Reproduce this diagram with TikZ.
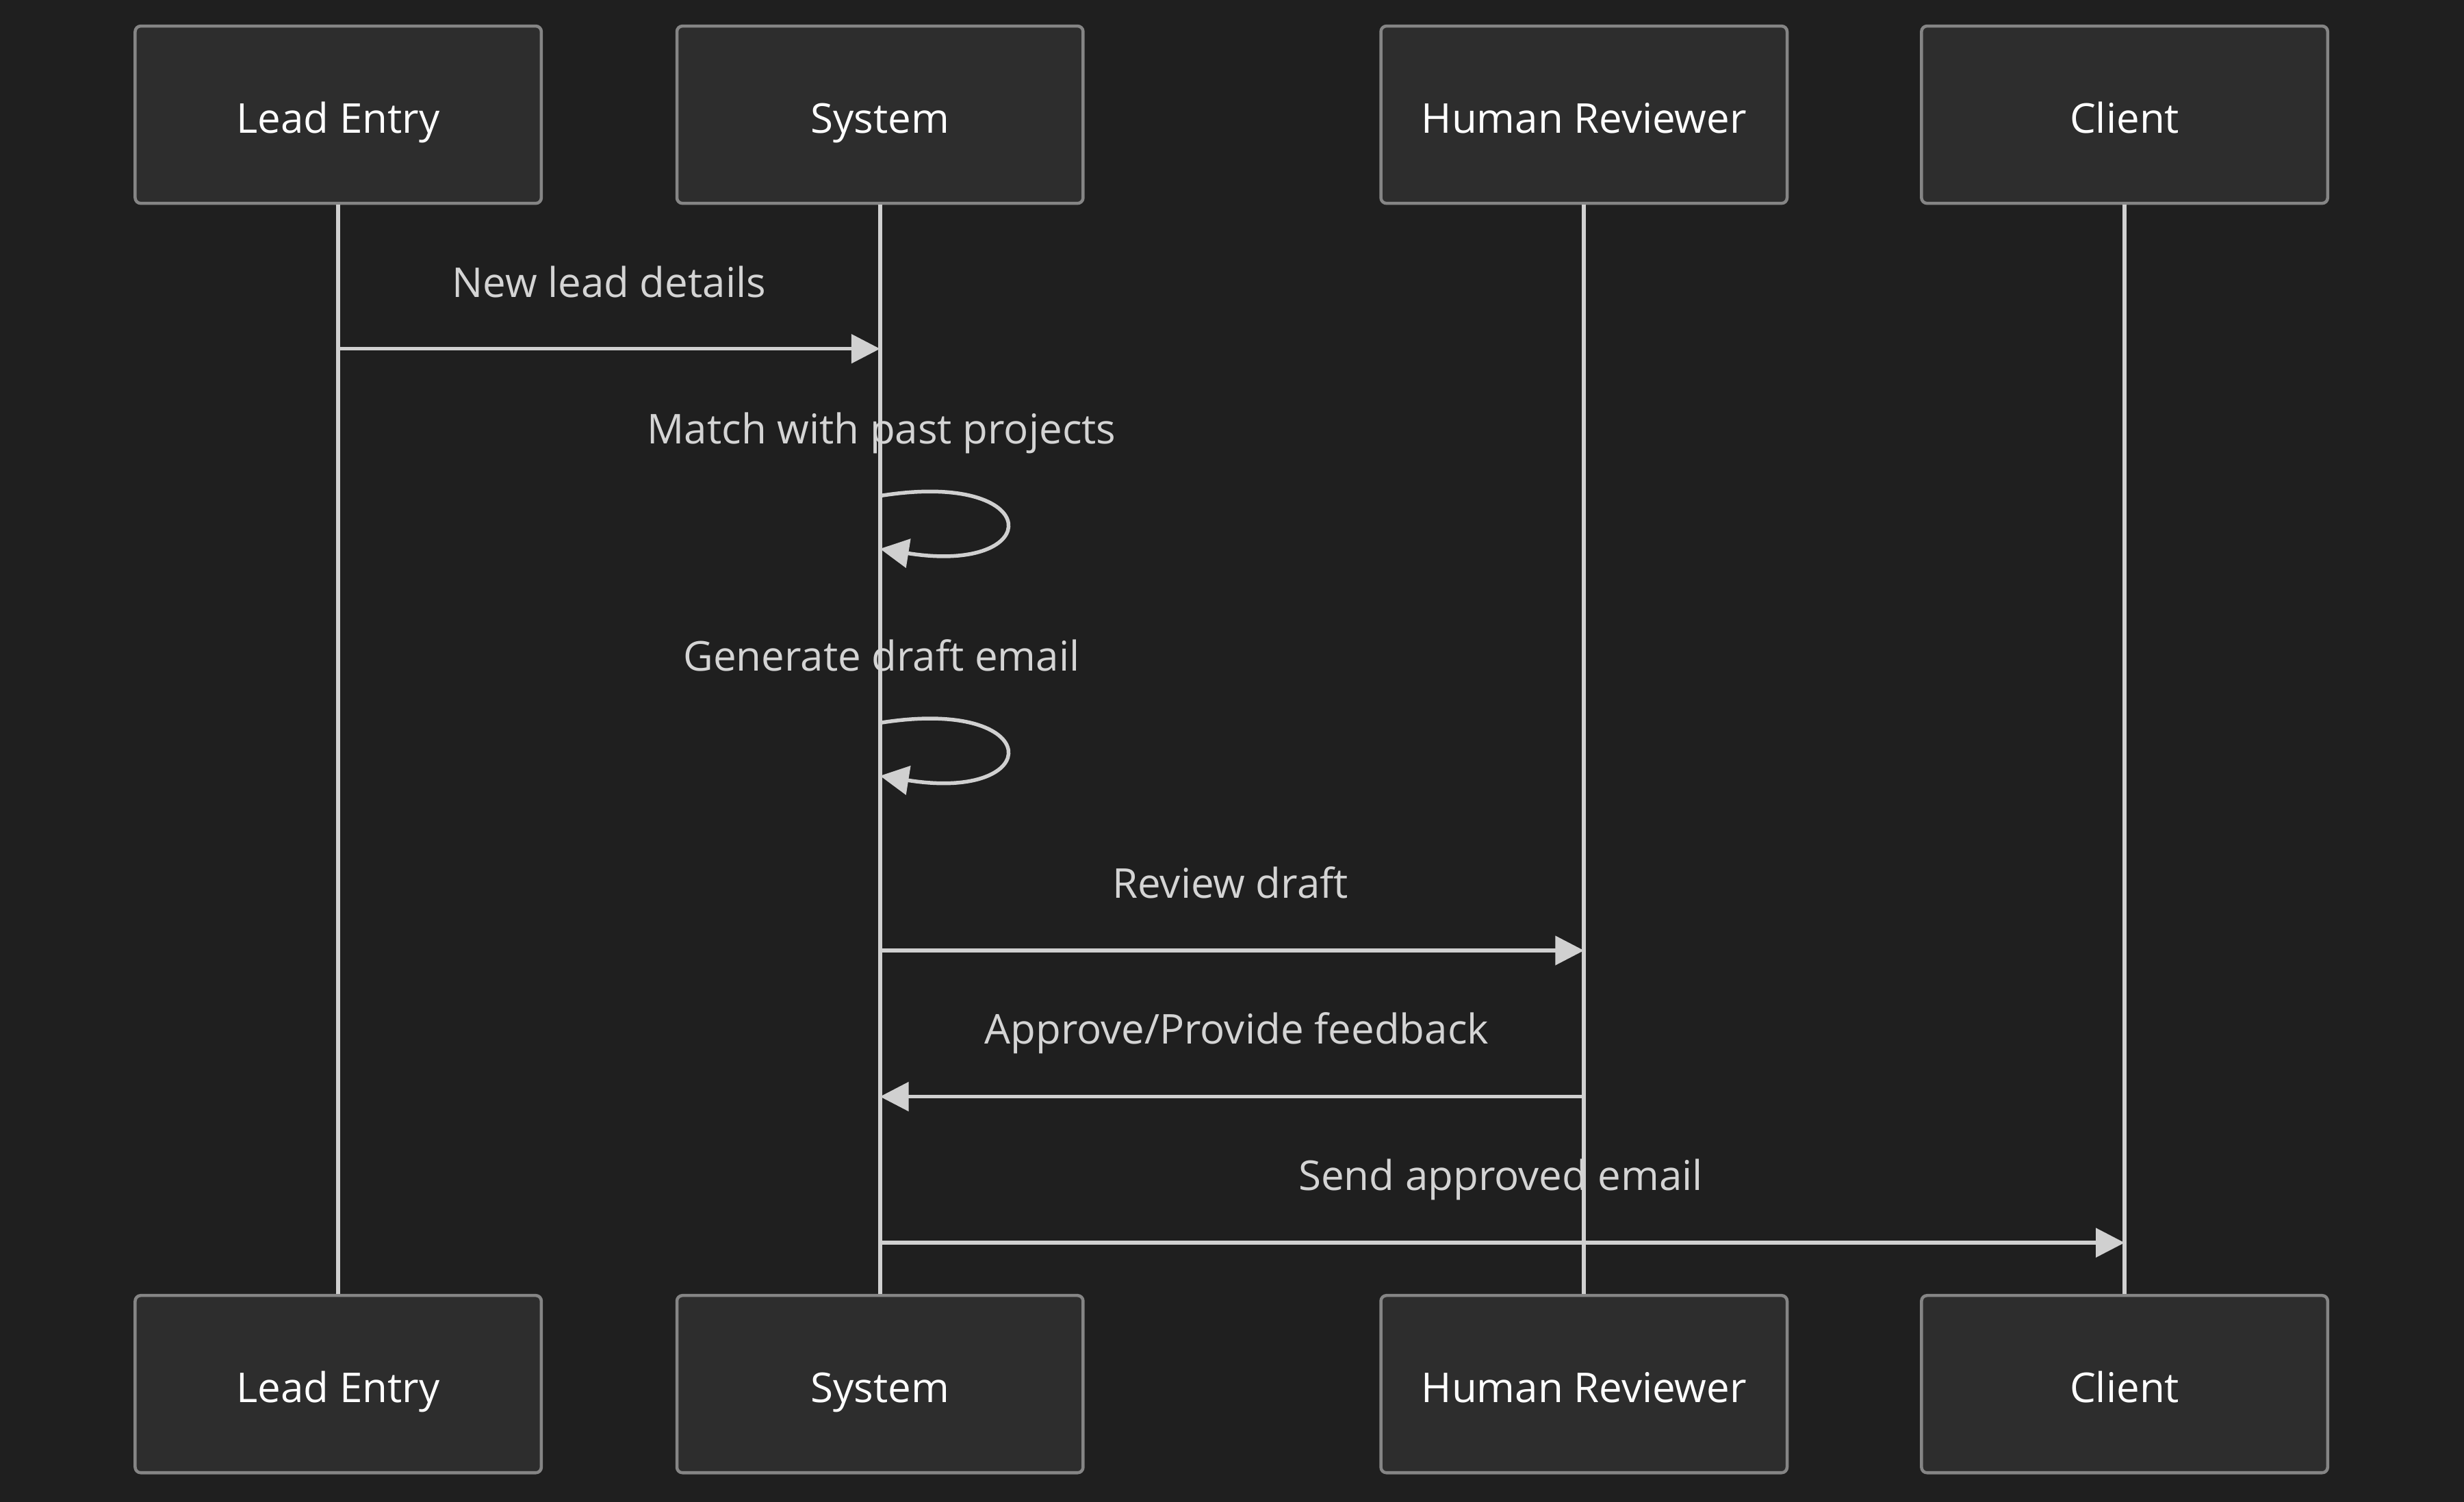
\documentclass[tikz,border=0pt]{standalone}
\usepackage{fontspec}
\setmainfont{Open Sans}
\usepackage{tikz}
\usetikzlibrary{arrows.meta,
                backgrounds,
                calc,
                positioning}
\definecolor{bgdark}{HTML}{1F1F1F}
\definecolor{actorfill}{HTML}{2D2D2D}
\definecolor{actorline}{HTML}{858585}
\definecolor{linegray}{HTML}{D0D0D0}
\definecolor{textgray}{HTML}{D4D4D4}

\begin{document}
\begin{tikzpicture}[line cap=butt,line join=round,x=0.025cm,y=-0.025cm,
  actor/.style={draw=actorline,fill=actorfill,line width=1.4pt,rounded corners=2.5pt,
    minimum width=6.46cm,minimum height=2.82cm,inner sep=0pt,text=white,
    text height=16.5pt,text depth=0pt,font=\fontsize{18.6}{22}\selectfont},
  lifeline/.style={draw=linegray,line width=1.8pt},
  msg/.style={draw=linegray,line width=1.7pt,-{Triangle[length=13pt,width=13pt]}},
  msglabel/.style={anchor=base,inner sep=0pt,text=textgray,font=\fontsize{18.6}{22}\selectfont}]
\fill[bgdark] (0,0) rectangle (1568,956);
% actors, top and bottom, with their lifelines
\foreach \name/\x/\txt in {lead/215.25/Lead Entry,sys/560/System,hum/1008/Human Reviewer,cli/1352/Client}
{
\node[actor] (\name) at (\x,73) {\txt};
\node[actor] (\name b) at (\x,881) {\txt};
\draw[lifeline] (\name.south) -- (\name b.north);
}
% messages
\node[msglabel] (newlead) at (387.5,189.4) {New lead details};
\draw[msg] (lead |- 0,222) -- (sys |- 0,222);
\node[msglabel] (match) at (561,282.6) {Match with past projects};
\draw[msg] (sys |- 0,315.6) .. controls +(106,-17) and +(106,17) .. (sys |- 0,349.3);
\node[msglabel] (draft) at (561,427.1) {Generate draft email};
\draw[msg] (sys |- 0,460.1) .. controls +(106,-17) and +(106,17) .. (sys |- 0,493.8);
\node[msglabel] (review) at (783,571.5) {Review draft};
\draw[msg] (sys |- 0,605) -- (hum |- 0,605);
\node[msglabel] (approve) at (787,664.5) {Approve/Provide feedback};
\draw[msg] (hum |- 0,698) -- (sys |- 0,698);
\node[msglabel] (send) at (955,757.5) {Send approved email};
\draw[msg] (sys |- 0,791) -- (cli |- 0,791);
\end{tikzpicture}
\end{document}
